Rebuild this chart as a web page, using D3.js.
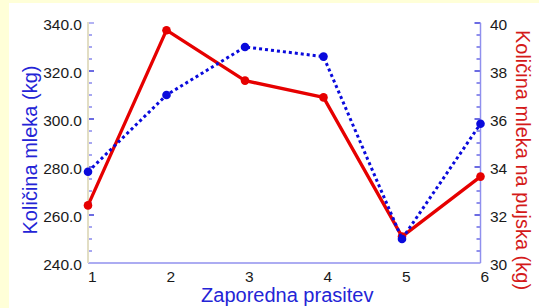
<!DOCTYPE html>
<html>
<head>
<meta charset="utf-8">
<script src="https://cdn.jsdelivr.net/npm/d3@7/dist/d3.min.js"></script>
<style>
  html, body { margin: 0; padding: 0; background: #ffffd8; }
  svg { display: block; font-family: "Liberation Sans", Arial, sans-serif; }
</style>
</head>
<body>
<div id="chart"></div>
<script>
const litters = [1, 2, 3, 4, 5, 6];
const milkTotal = [278, 310, 330, 326, 250, 298];
const milkPerPiglet = [32.4, 39.7, 37.6, 36.9, 31.1, 33.6];
const leftTicks = [240, 260, 280, 300, 320, 340];
const rightTicks = [30, 32, 34, 36, 38, 40];

const width = 539, height = 308;
const margin = { top: 23, right: 58.5, bottom: 45, left: 88 };

const svg = d3.select('#chart')
  .append('svg')
  .attr('width', width)
  .attr('height', height);

svg.append('rect')
  .attr('x', 0).attr('y', 0)
  .attr('width', width).attr('height', height)
  .attr('fill', '#ffffd8');

svg.append('rect')
  .attr('x', 9).attr('y', 3)
  .attr('width', width - 9).attr('height', height - 3)
  .attr('fill', '#ffffff');

const x = d3.scaleLinear()
  .domain([1, 6])
  .range([margin.left, width - margin.right]);

const yLeft = d3.scaleLinear()
  .domain([240, 340])
  .range([height - margin.bottom, margin.top]);

const yRight = d3.scaleLinear()
  .domain([30, 40])
  .range([height - margin.bottom, margin.top]);

const x0 = x.range()[0], x1 = x.range()[1];
const yb = yLeft.range()[0], yt = yLeft.range()[1];

// minor ticks
svg.selectAll('.minor-left')
  .data(d3.range(240, 341, 5).filter(d => d % 20 !== 0))
  .enter()
  .append('line')
  .attr('x1', x0).attr('x2', x0 + 4)
  .attr('y1', d => yLeft(d)).attr('y2', d => yLeft(d))
  .attr('stroke', '#8a8aec')
  .attr('stroke-width', 1.5);

svg.selectAll('.minor-right')
  .data(d3.range(30, 40.01, 0.5).filter(d => Math.abs(d % 2) > 0.01))
  .enter()
  .append('line')
  .attr('x1', x1 - 4).attr('x2', x1)
  .attr('y1', d => yRight(d)).attr('y2', d => yRight(d))
  .attr('stroke', '#6a6ae6')
  .attr('stroke-width', 1.5);

// major ticks
svg.selectAll('.major-left')
  .data(leftTicks.slice(1))
  .enter()
  .append('line')
  .attr('x1', x0).attr('x2', x0 + 6)
  .attr('y1', d => yLeft(d)).attr('y2', d => yLeft(d))
  .attr('stroke', d => d === 340 ? '#9a9af0' : '#3a3ad8')
  .attr('stroke-width', 1.5);

svg.selectAll('.major-right')
  .data(rightTicks.slice(1))
  .enter()
  .append('line')
  .attr('x1', x1 - 6).attr('x2', x1)
  .attr('y1', d => yRight(d)).attr('y2', d => yRight(d))
  .attr('stroke', '#3a3ad8')
  .attr('stroke-width', 1.5);

// axis lines
svg.append('line')
  .attr('x1', x0).attr('x2', x1)
  .attr('y1', yb).attr('y2', yb)
  .attr('stroke', '#9090ee')
  .attr('stroke-width', 1.5);

svg.append('line')
  .attr('x1', x1).attr('x2', x1)
  .attr('y1', yb).attr('y2', yt)
  .attr('stroke', '#9090ee')
  .attr('stroke-width', 1.5);

svg.append('line')
  .attr('x1', x0).attr('x2', x0)
  .attr('y1', yb).attr('y2', yt - 1)
  .attr('stroke', '#e2dec4')
  .attr('stroke-width', 2);

// tick labels
svg.selectAll('.label-left')
  .data(leftTicks)
  .enter()
  .append('text')
  .attr('x', x0 - 6)
  .attr('y', d => yLeft(d) + 7)
  .attr('text-anchor', 'end')
  .attr('font-size', '15.5px')
  .attr('fill', '#1a1a1a')
  .text(d => d.toFixed(1));

svg.selectAll('.label-right')
  .data(rightTicks)
  .enter()
  .append('text')
  .attr('x', x1 + 9.5)
  .attr('y', d => yRight(d) + 6.5)
  .attr('text-anchor', 'start')
  .attr('font-size', '15.5px')
  .attr('fill', '#1a1a1a')
  .text(d => d);

svg.selectAll('.label-x')
  .data(litters)
  .enter()
  .append('text')
  .attr('x', d => x(d))
  .attr('y', yb + 18.5)
  .attr('text-anchor', 'start')
  .attr('font-size', '15.5px')
  .attr('fill', '#1a1a1a')
  .text(d => d);

// axis titles
svg.append('text')
  .attr('transform', `translate(37,${(yb + yt) / 2 + 7}) rotate(-90)`)
  .attr('text-anchor', 'middle')
  .attr('font-size', '20px')
  .attr('fill', '#2424d6')
  .text('Količina mleka (kg)');

svg.append('text')
  .attr('transform', `translate(516,${(yb + yt) / 2 + 17}) rotate(90)`)
  .attr('text-anchor', 'middle')
  .attr('font-size', '20px')
  .attr('fill', '#d41a1a')
  .text('Količina mleka na pujska (kg)');

svg.append('text')
  .attr('x', (x0 + x1) / 2 + 3)
  .attr('y', 302)
  .attr('text-anchor', 'middle')
  .attr('font-size', '20px')
  .attr('fill', '#2424d6')
  .text('Zaporedna prasitev');

// red series (right axis)
const redLine = d3.line()
  .x((d, i) => x(litters[i]))
  .y(d => yRight(d));

svg.append('path')
  .datum(milkPerPiglet)
  .attr('d', redLine)
  .attr('fill', 'none')
  .attr('stroke', '#e60000')
  .attr('stroke-width', 3.3)
  .attr('stroke-linejoin', 'round');

svg.selectAll('.dot-red')
  .data(milkPerPiglet)
  .enter()
  .append('circle')
  .attr('cx', (d, i) => x(litters[i]))
  .attr('cy', d => yRight(d))
  .attr('r', 4.3)
  .attr('fill', '#e60000');

// blue series (left axis)
const blueLine = d3.line()
  .x((d, i) => x(litters[i]))
  .y(d => yLeft(d));

svg.append('path')
  .datum(milkTotal)
  .attr('d', blueLine)
  .attr('fill', 'none')
  .attr('stroke', '#0a0adc')
  .attr('stroke-width', 3)
  .attr('stroke-dasharray', '3,3');

svg.selectAll('.dot-blue')
  .data(milkTotal)
  .enter()
  .append('circle')
  .attr('cx', (d, i) => x(litters[i]))
  .attr('cy', d => yLeft(d))
  .attr('r', 4.3)
  .attr('fill', '#0a0adc');
</script>
</body>
</html>
